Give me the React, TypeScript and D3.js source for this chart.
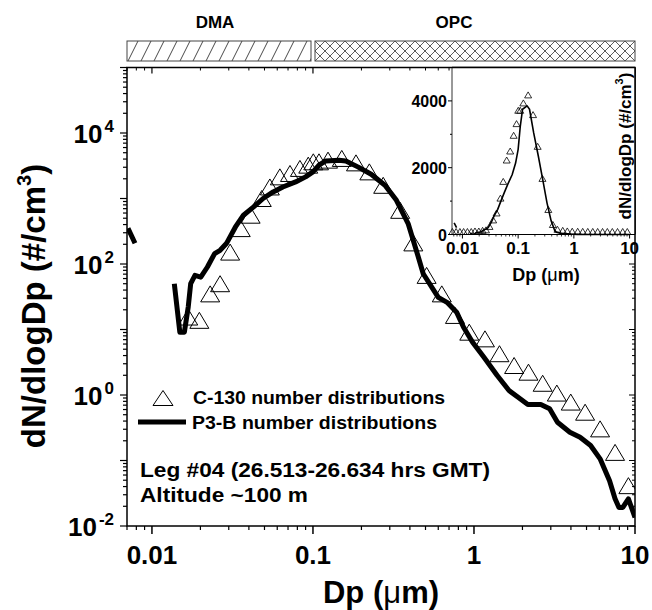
import React from "react";
import * as d3 from "d3";

// ---------- data ----------
// C-130 number distributions (open triangles)
const c130Dp = [0.0168, 0.0197, 0.023, 0.0265, 0.0306, 0.0356, 0.041, 0.0481, 0.054, 0.0623, 0.072, 0.083, 0.0935, 0.1005, 0.109, 0.124, 0.151, 0.185, 0.224, 0.273, 0.348, 0.42, 0.508, 0.631, 0.762, 0.935, 1.17, 1.44, 1.775, 2.18, 2.67, 3.27, 3.99, 4.9, 6.07, 7.52, 9.1];
const c130N = [15.5, 13.8, 35, 50, 152, 347, 556, 1000, 1500, 2140, 2410, 2880, 3230, 3630, 3630, 3850, 4090, 3500, 2550, 1590, 660, 210, 67, 35, 16.4, 9.1, 7.2, 4.27, 2.82, 2.23, 1.51, 1.07, 0.78, 0.546, 0.304, 0.133, 0.0413];
// extra zero-valued C-130 points visible only in the linear inset
const c130ZeroDp = [0.0066, 0.0077, 0.009, 0.0105, 0.0123, 0.0144];

// P3-B number distributions (thick line); NaN breaks the line
const p3bDp = [0.0071, 0.00785, 0.01, 0.01377, 0.0149, 0.0159, 0.0168, 0.0174, 0.0185, 0.0201, 0.0221, 0.0245, 0.0265, 0.029, 0.033, 0.037, 0.0428, 0.049, 0.0566, 0.065, 0.078, 0.09, 0.1, 0.109, 0.12, 0.145, 0.16, 0.19, 0.23, 0.28, 0.33, 0.39, 0.451, 0.484, 0.6, 0.68, 0.78, 0.86, 0.98, 1.15, 1.39, 1.65, 1.87, 2.16, 2.6, 2.95, 3.3, 3.94, 4.56, 5.3, 6.07, 6.95, 7.52, 7.95, 8.4, 9.1, 10];
const p3bN = [351, 207, NaN, 50, 9.1, 9.1, 22, 50, 67, 63, 90, 144, 162, 205, 368, 556, 745, 1000, 1260, 1500, 1790, 2140, 2550, 3230, 3750, 3850, 3750, 3040, 2350, 1590, 940, 415, 128, 71, 31, 26, 18.4, 10.9, 6.4, 3.8, 2.0, 1.17, 0.93, 0.716, 0.716, 0.615, 0.384, 0.27, 0.226, 0.169, 0.106, 0.049, 0.026, 0.0192, 0.0192, 0.026, 0.0135];

// ticks
const xTickValues = [0.01, 0.1, 1, 10];
const xTickLabels = ["0.01", "0.1", "1", "10"];
const yLabelExponents = [-2, 0, 2, 4];
const insetYTicks = [0, 2000, 4000];
const insetYMinor = [1000, 3000, 5000];

const FONT = "'Liberation Sans', Arial, Helvetica, sans-serif";

function tri(cx: number, cy: number, w: number, h: number) {
  return `M${cx - w / 2},${cy + h / 2}L${cx},${cy - h / 2}L${cx + w / 2},${cy + h / 2}Z`;
}

function logMinor(lo: number, hi: number) {
  const out: number[] = [];
  for (let e = Math.floor(Math.log10(lo)) - 1; e <= Math.ceil(Math.log10(hi)); e++) {
    for (let m = 1; m <= 9; m++) {
      const v = m * Math.pow(10, e);
      if (v >= lo * 0.999 && v <= hi * 1.001) out.push(v);
    }
  }
  return out;
}

export default function App() {
  const L = 127, R = 635, T = 67.5, B = 526;
  const x = d3.scaleLog().domain([0.007, 10]).range([L, R]);
  const y = d3.scaleLog().domain([0.01, 1e5]).range([B, T]);

  const IL = 452, IB = 234.5;
  const xi = d3.scaleLog().domain([0.0065, 12.5]).range([IL, R]);
  const yi = d3.scaleLinear().domain([0, 5000]).range([IB, T]);

  const p3b = p3bDp.map((d, i) => ({ d, n: p3bN[i] }));
  const c130 = c130Dp.map((d, i) => ({ d, n: c130N[i] }));

  const mainLine = d3
    .line<{ d: number; n: number }>()
    .defined((p) => !isNaN(p.n))
    .x((p) => x(p.d))
    .y((p) => y(p.n))
    .curve(d3.curveLinear);

  const insetLine = d3
    .line<{ d: number; n: number }>()
    .defined((p) => !isNaN(p.n))
    .x((p) => xi(p.d))
    .y((p) => yi(p.n));

  const isDecade = (v: number) => Math.abs(Math.log10(v) - Math.round(Math.log10(v))) < 1e-6;
  const xMinor = logMinor(0.007, 10).filter((v) => !isDecade(v));
  const yAll = logMinor(0.01, 1e5);
  const xiMinor = logMinor(0.0065, 12.5).filter((v) => !isDecade(v));

  return (
    <svg
      width={652}
      height={610}
      style={{ position: "absolute", left: 0, top: 0, background: "#fff" }}
      fontFamily={FONT}
      fontWeight="bold"
    >
      <defs>
        <pattern id="dhatch" patternUnits="userSpaceOnUse" x={127} y={41} width={13} height={20}>
          <path d="M1,20L11,0" stroke="#333" strokeWidth={0.9} fill="none" />
        </pattern>
        <pattern id="xhatch" patternUnits="userSpaceOnUse" x={315} y={41} width={10} height={10}>
          <path d="M0,0L10,10M10,0L0,10" stroke="#333" strokeWidth={0.8} fill="none" />
        </pattern>
        <clipPath id="mainClip">
          <rect x={L} y={T} width={R - L} height={B - T} />
        </clipPath>
      </defs>
      <rect width={652} height={610} fill="#fff" />

      {/* top instrument bars */}
      <text x={215} y={28} fontSize={17} textAnchor="middle">DMA</text>
      <text x={454} y={28} fontSize={17} textAnchor="middle">OPC</text>
      <rect x={127} y={41} width={184} height={20} fill="url(#dhatch)" stroke="#444" strokeWidth={1} />
      <rect x={315} y={41} width={320} height={20} fill="url(#xhatch)" stroke="#444" strokeWidth={1} />

      {/* main frame */}
      <rect x={L} y={T} width={R - L} height={B - T} fill="none" stroke="#000" strokeWidth={1.5} />

      {/* bottom ticks (outward) and top ticks (inward) */}
      {xTickValues.map((v) => (
        <g key={"xt" + v}>
          <line x1={x(v)} x2={x(v)} y1={B} y2={B + 8} stroke="#000" strokeWidth={1.5} />
          <line x1={x(v)} x2={x(v)} y1={T} y2={T + 6} stroke="#000" strokeWidth={1.2} />
        </g>
      ))}
      {xMinor.map((v) => (
        <g key={"xm" + v}>
          <line x1={x(v)} x2={x(v)} y1={B} y2={B + 4} stroke="#000" strokeWidth={1.2} />
          <line x1={x(v)} x2={x(v)} y1={T} y2={T + 3} stroke="#000" strokeWidth={1} />
        </g>
      ))}
      {xTickValues.map((v, i) => (
        <text key={"xl" + v} x={x(v)} y={564} fontSize={26} textAnchor="middle">
          {xTickLabels[i]}
        </text>
      ))}

      {/* left ticks (outward) and right ticks (inward) */}
      {yAll.map((v) => {
        const major = isDecade(v);
        return (
          <g key={"yt" + v}>
            <line x1={L} x2={L - (major ? 7 : 4)} y1={y(v)} y2={y(v)} stroke="#000" strokeWidth={1.2} />
            <line x1={R} x2={R - (major ? 6 : 3)} y1={y(v)} y2={y(v)} stroke="#000" strokeWidth={1} />
          </g>
        );
      })}
      {yLabelExponents.map((e) => (
        <text key={"yl" + e} x={114} y={y(Math.pow(10, e)) + 10} fontSize={26} textAnchor="end">
          <tspan>10</tspan>
          <tspan dx={2} dy={-11} fontSize={17}>{e}</tspan>
        </text>
      ))}

      {/* axis titles */}
      <text x={381} y={603} fontSize={31} textAnchor="middle">
        Dp (<tspan fontWeight="normal">μ</tspan>m)
      </text>
      <text transform={`translate(45,${306}) rotate(-90)`} fontSize={33} textAnchor="middle">
        dN/dlogDp (#/cm<tspan dy={-14} fontSize={20}>3</tspan><tspan dy={14}>)</tspan>
      </text>

      {/* main data */}
      <g clipPath="url(#mainClip)">
        {c130.map((p, i) => (
          <path key={"c" + i} d={tri(x(p.d), y(p.n), 19, 16)} fill="none" stroke="#000" strokeWidth={1} />
        ))}
        <path d={mainLine(p3b) || ""} fill="none" stroke="#000" strokeWidth={5} strokeLinejoin="round" strokeLinecap="butt" />
      </g>

      {/* legend */}
      <path d={tri(163, 398, 20, 15)} fill="none" stroke="#000" strokeWidth={1} />
      <text x={193} y={403.5} fontSize={18} textLength={252} lengthAdjust="spacingAndGlyphs">C-130 number distributions</text>
      <line x1={138} x2={186} y1={422} y2={422} stroke="#000" strokeWidth={5} />
      <text x={192} y={428.5} fontSize={18} textLength={245} lengthAdjust="spacingAndGlyphs">P3-B number distributions</text>
      <text x={140} y={476.5} fontSize={20} textLength={350} lengthAdjust="spacingAndGlyphs">Leg #04 (26.513-26.634 hrs GMT)</text>
      <text x={140} y={501.5} fontSize={20} textLength={168} lengthAdjust="spacingAndGlyphs">Altitude ~100 m</text>

      {/* inset */}
      <rect x={IL} y={T} width={R - IL} height={IB - T} fill="#fff" />
      <line x1={IL} x2={IL} y1={T} y2={IB} stroke="#333" strokeWidth={1} />
      <line x1={IL} x2={R} y1={IB} y2={IB} stroke="#000" strokeWidth={1.2} />
      <line x1={IL} x2={R} y1={T} y2={T} stroke="#000" strokeWidth={1.5} />
      <line x1={R} x2={R} y1={T} y2={IB} stroke="#000" strokeWidth={1.5} />
      {insetYTicks.map((v) => (
        <g key={"iy" + v}>
          <line x1={IL} x2={IL - 4} y1={yi(v)} y2={yi(v)} stroke="#000" strokeWidth={1} />
          <text x={IL - 5} y={yi(v) + 6} fontSize={16} textAnchor="end">{v}</text>
        </g>
      ))}
      {insetYMinor.map((v) => (
        <line key={"iym" + v} x1={IL} x2={IL - 2} y1={yi(v)} y2={yi(v)} stroke="#000" strokeWidth={1} />
      ))}
      {xTickValues.map((v, i) => (
        <g key={"ix" + v}>
          <line x1={xi(v)} x2={xi(v)} y1={IB} y2={IB + 4} stroke="#000" strokeWidth={1} />
          <text x={xi(v)} y={254} fontSize={17} textAnchor="middle">{xTickLabels[i]}</text>
        </g>
      ))}
      {xiMinor.map((v) => (
        <line key={"ixm" + v} x1={xi(v)} x2={xi(v)} y1={IB} y2={IB + 2} stroke="#000" strokeWidth={0.8} />
      ))}
      <text x={546} y={281} fontSize={18} textAnchor="middle">
        Dp (<tspan fontWeight="normal">μ</tspan>m)
      </text>
      <text transform={`translate(631,${146}) rotate(-90)`} fontSize={17} textAnchor="middle">
        dN/dlogDp (#/cm<tspan dy={-8} fontSize={11}>3</tspan><tspan dy={8}>)</tspan>
      </text>
      {c130ZeroDp.map((d, i) => (
        <path key={"iz" + i} d={tri(xi(d), yi(0) - 3, 7, 6)} fill="none" stroke="#000" strokeWidth={0.8} />
      ))}
      {c130.map((p, i) => (
        <path key={"ic" + i} d={tri(xi(p.d), yi(p.n) - 3, 7, 6)} fill="none" stroke="#000" strokeWidth={0.8} />
      ))}
      <path d={insetLine(p3b) || ""} fill="none" stroke="#000" strokeWidth={1.6} strokeLinejoin="round" />
    </svg>
  );
}
